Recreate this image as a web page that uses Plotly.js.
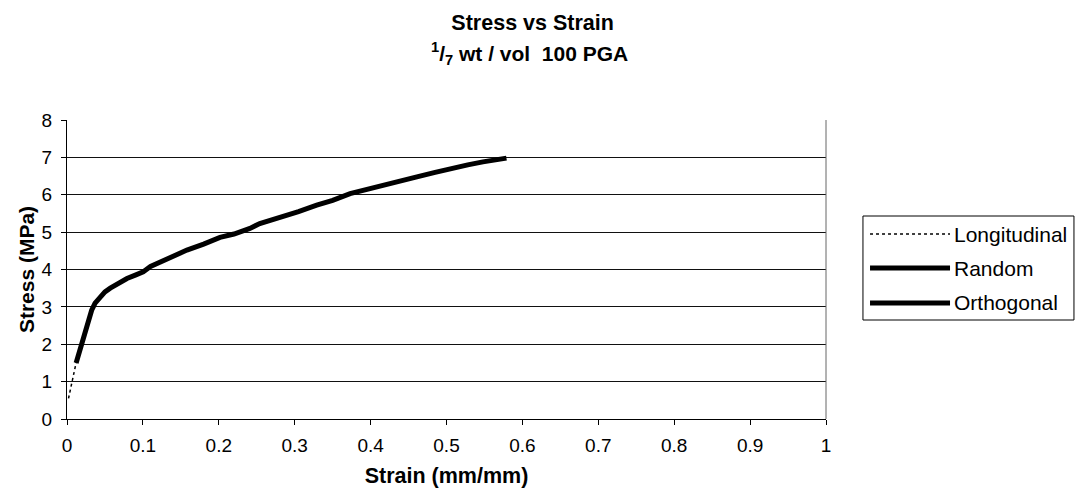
<!DOCTYPE html>
<html>
<head>
<meta charset="utf-8">
<script src="https://cdn.plot.ly/plotly-3.0.1.min.js"></script>
<style>
  html, body { margin: 0; padding: 0; background: #fff; }
  #chart { width: 1076px; height: 488px; }
</style>
</head>
<body>
<div id="chart"></div>
<script>
// ---- Data ----
const seriesNames = ["Longitudinal", "Random", "Orthogonal"];

const longitudinalStrain = [0.002, 0.005, 0.008, 0.011, 0.013];
const longitudinalStress = [0.55, 0.85, 1.15, 1.45, 1.6];

const randomStrain = [0.012, 0.017, 0.020, 0.024, 0.028, 0.0325, 0.037, 0.0435, 0.050, 0.057,
  0.067, 0.079, 0.090, 0.1005, 0.110, 0.1225, 0.140, 0.158, 0.180, 0.2016,
  0.220, 0.241, 0.254, 0.270, 0.285, 0.305, 0.329, 0.350, 0.373, 0.395,
  0.417, 0.440, 0.461, 0.485, 0.505, 0.528, 0.548, 0.565, 0.579];
const randomStress = [1.5, 1.85, 2.05, 2.38, 2.65, 2.91, 3.1, 3.27, 3.4, 3.5,
  3.62, 3.76, 3.85, 3.94, 4.08, 4.2, 4.37, 4.52, 4.68, 4.86,
  4.95, 5.1, 5.23, 5.32, 5.41, 5.55, 5.72, 5.85, 6.03, 6.15,
  6.26, 6.38, 6.48, 6.6, 6.70, 6.80, 6.88, 6.94, 6.98];

const orthogonalStrain = [];
const orthogonalStress = [];

const xTicks = [0, 0.1, 0.2, 0.3, 0.4, 0.5, 0.6, 0.7, 0.8, 0.9, 1];
const xTickLabels = ["0", "0.1", "0.2", "0.3", "0.4", "0.5", "0.6", "0.7", "0.8", "0.9", "1"];
const yTicks = [0, 1, 2, 3, 4, 5, 6, 7, 8];

// ---- Chart ----
const FONT = "Liberation Sans, Arial, sans-serif";

const traces = [
  { x: longitudinalStrain, y: longitudinalStress, name: seriesNames[0], mode: "lines",
    line: { color: "#000", width: 1.5, dash: "dot" }, showlegend: false },
  { x: randomStrain, y: randomStress, name: seriesNames[1], mode: "lines",
    line: { color: "#000", width: 5 }, showlegend: false },
  { x: orthogonalStrain, y: orthogonalStress, name: seriesNames[2], mode: "lines",
    line: { color: "#000", width: 5 }, showlegend: false }
];

// custom legend (positions in paper coordinates)
const legX0 = 1.0487, legX1 = 1.3267, legY0 = 0.3311, legY1 = 0.6789;
const legRows = [0.6187, 0.505, 0.388];
const legLineStyles = [
  { color: "#000", width: 1.5, dash: "dot" },
  { color: "#000", width: 5 },
  { color: "#000", width: 5 }
];
const shapes = [
  { type: "rect", xref: "paper", yref: "paper", x0: legX0, x1: legX1, y0: legY0, y1: legY1,
    line: { color: "#000", width: 1 }, fillcolor: "#fff" }
];
const annotations = [
  { xref: "paper", yref: "paper", x: 0.609, y: 1.221,
    text: "<b><sup>1</sup>/<sub>7</sub> wt / vol  100 PGA</b>", showarrow: false,
    xanchor: "center", yanchor: "middle", font: { family: FONT, size: 21, color: "#000" } }
];
seriesNames.forEach((n, i) => {
  shapes.push({ type: "line", xref: "paper", yref: "paper", x0: 1.058, x1: 1.1634,
    y0: legRows[i], y1: legRows[i], line: legLineStyles[i] });
  annotations.push({ xref: "paper", yref: "paper", x: 1.166, y: legRows[i], text: n,
    showarrow: false, xanchor: "left", yanchor: "middle",
    font: { family: FONT, size: 21, color: "#000" } });
});

const layout = {
  width: 1076, height: 488,
  margin: { l: 67, r: 250, t: 120, b: 69 },
  paper_bgcolor: "#fff", plot_bgcolor: "#fff",
  font: { family: FONT, color: "#000" },
  title: { text: "<b>Stress vs Strain</b>", x: 0.495, xanchor: "center", y: 0.953, yanchor: "middle",
    font: { family: FONT, size: 21.5, color: "#000" } },
  xaxis: {
    range: [0, 1], tickvals: xTicks, ticktext: xTickLabels,
    ticks: "outside", ticklen: 5, tickcolor: "#000", tickwidth: 1,
    ticklabelstandoff: 4,
    showgrid: false, zeroline: false,
    showline: true, linecolor: "#000", linewidth: 1, mirror: false,
    tickfont: { family: FONT, size: 19, color: "#000" },
    title: { text: "<b>Strain (mm/mm)</b>", font: { family: FONT, size: 21.5, color: "#000" }, standoff: 14 }
  },
  yaxis: {
    range: [0, 8], tickvals: yTicks,
    ticks: "outside", ticklen: 5, tickcolor: "#000", tickwidth: 1,
    ticklabelstandoff: 5,
    showgrid: true, gridcolor: "#111", gridwidth: 1, zeroline: false,
    showline: true, linecolor: "#000", linewidth: 1,
    tickfont: { family: FONT, size: 19, color: "#000" },
    title: { text: "<b>Stress (MPa)</b>", font: { family: FONT, size: 21, color: "#000" }, standoff: 1 }
  },
  shapes: shapes.concat([
    { type: "line", xref: "paper", yref: "paper", x0: 1, x1: 1, y0: 0, y1: 1,
      line: { color: "#666", width: 1 } }
  ]),
  annotations: annotations,
  showlegend: false
};

Plotly.newPlot("chart", traces, layout, { displayModeBar: false, staticPlot: true });
</script>
</body>
</html>
